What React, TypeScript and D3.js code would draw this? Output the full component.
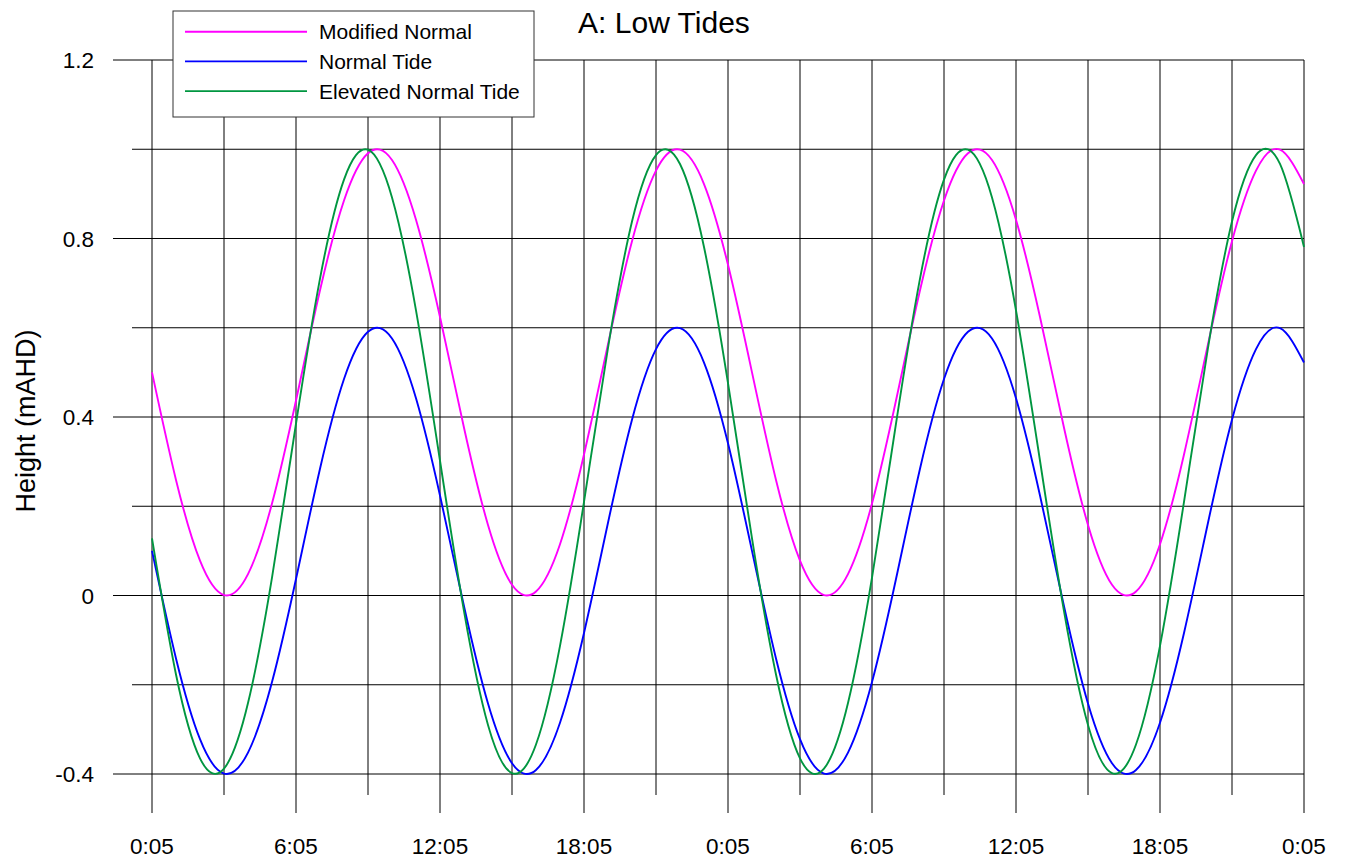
import React from 'react';
import * as d3 from 'd3';

// hours since 0:05 on day one
const hours = [
  0, 1, 2, 3, 4, 5, 6, 7, 8, 9, 10, 11, 12, 13, 14, 15, 16, 17, 18, 19, 20, 21, 22, 23, 24,
  25, 26, 27, 28, 29, 30, 31, 32, 33, 34, 35, 36, 37, 38, 39, 40, 41, 42, 43, 44, 45, 46, 47, 48,
];

const modifiedNormal = [
  0.5, 0.259, 0.078, 0.001, 0.048, 0.206, 0.437, 0.684, 0.885, 0.991, 0.976, 0.842, 0.624,
  0.376, 0.158, 0.024, 0.009, 0.115, 0.316, 0.563, 0.794, 0.952, 0.999, 0.922, 0.741,
  0.5, 0.259, 0.078, 0.001, 0.048, 0.206, 0.437, 0.684, 0.885, 0.991, 0.976, 0.842, 0.624,
  0.376, 0.158, 0.024, 0.009, 0.115, 0.316, 0.563, 0.794, 0.952, 0.999, 0.922,
];

const normalTide = [
  0.1, -0.141, -0.322, -0.399, -0.352, -0.194, 0.037, 0.284, 0.485, 0.591, 0.576, 0.442, 0.224,
  -0.024, -0.242, -0.376, -0.391, -0.285, -0.084, 0.163, 0.394, 0.552, 0.599, 0.522, 0.341,
  0.1, -0.141, -0.322, -0.399, -0.352, -0.194, 0.037, 0.284, 0.485, 0.591, 0.576, 0.442, 0.224,
  -0.024, -0.242, -0.376, -0.391, -0.285, -0.084, 0.163, 0.394, 0.552, 0.599, 0.522,
];

const elevatedNormalTide = [
  0.128, -0.177, -0.365, -0.388, -0.241, 0.04, 0.385, 0.71, 0.932, 0.999, 0.892, 0.639, 0.302,
  -0.035, -0.29, -0.398, -0.334, -0.113, 0.21, 0.555, 0.838, 0.987, 0.967, 0.781, 0.476,
  0.128, -0.177, -0.365, -0.388, -0.241, 0.04, 0.385, 0.71, 0.932, 0.999, 0.892, 0.639, 0.302,
  -0.035, -0.29, -0.398, -0.334, -0.113, 0.21, 0.555, 0.838, 0.987, 0.967, 0.781,
];

const seriesNames = ['Modified Normal', 'Normal Tide', 'Elevated Normal Tide'];
const seriesColors = ['#ff00ff', '#0000ff', '#009640'];

const xGridHours = [0, 3, 6, 9, 12, 15, 18, 21, 24, 27, 30, 33, 36, 39, 42, 45, 48];
const xLabelHours = [0, 6, 12, 18, 24, 30, 36, 42, 48];
const xLabels = ['0:05', '6:05', '12:05', '18:05', '0:05', '6:05', '12:05', '18:05', '0:05'];

const yGrid = [-0.4, -0.2, 0, 0.2, 0.4, 0.6, 0.8, 1.0, 1.2];
const yLabelValues = [-0.4, 0, 0.4, 0.8, 1.2];
const yLabels = ['-0.4', '0', '0.4', '0.8', '1.2'];

const W = 1346;
const H = 862;
const font = '"Liberation Sans", Arial, Helvetica, sans-serif';

const App = () => {
  const x = d3.scaleLinear().domain([0, 48]).range([152, 1304]);
  const y = d3.scaleLinear().domain([-0.4, 1.2]).range([774, 60]);

  const line = d3
    .line<number>()
    .x((_, i) => x(hours[i]))
    .y((d) => y(d))
    .curve(d3.curveNatural);

  const allSeries = [modifiedNormal, normalTide, elevatedNormalTide];
  const isMajorY = (v: number) => yLabelValues.some((l) => Math.abs(l - v) < 1e-9);

  return (
    <svg
      width={W}
      height={H}
      style={{ position: 'absolute', left: 0, top: 0, background: '#fff' }}
      fontFamily={font}
    >
      {/* horizontal grid */}
      {yGrid.map((v) => (
        <line
          key={'h' + v}
          x1={isMajorY(v) ? 113 : 132}
          x2={x(48)}
          y1={y(v)}
          y2={y(v)}
          stroke="#000"
          strokeWidth={1}
        />
      ))}
      {/* vertical grid */}
      {xGridHours.map((h) => (
        <line
          key={'v' + h}
          x1={x(h)}
          x2={x(h)}
          y1={y(1.2)}
          y2={xLabelHours.includes(h) ? 813 : 795}
          stroke="#000"
          strokeWidth={1}
        />
      ))}

      {yLabelValues.map((v, i) => (
        <text key={'yl' + v} x={94} y={y(v) + 8} textAnchor="end" fontSize={22.5} fill="#000">
          {yLabels[i]}
        </text>
      ))}
      {xLabelHours.map((h, i) => (
        <text key={'xl' + h} x={x(h)} y={854} textAnchor="middle" fontSize={22.5} fill="#000">
          {xLabels[i]}
        </text>
      ))}

      <text x={35} y={421} transform="rotate(-90 35 421)" textAnchor="middle" fontSize={27} fill="#000">
        Height (mAHD)
      </text>
      <text x={664} y={33} textAnchor="middle" fontSize={30} fill="#000">
        A: Low Tides
      </text>

      {allSeries.map((s, i) => (
        <path key={seriesNames[i]} d={line(s) || ''} fill="none" stroke={seriesColors[i]} strokeWidth={1.9} />
      ))}

      {/* legend */}
      <g>
        <rect x={173} y={11} width={361} height={106} fill="#fff" stroke="#333" strokeWidth={1} />
        {seriesNames.map((n, i) => (
          <g key={'lg' + n}>
            <line x1={185} x2={307} y1={31.7 + i * 29.7} y2={31.7 + i * 29.7} stroke={seriesColors[i]} strokeWidth={1.9} />
            <text x={319} y={39.4 + i * 29.7} fontSize={21} fill="#000">
              {n}
            </text>
          </g>
        ))}
      </g>
    </svg>
  );
};

export default App;
